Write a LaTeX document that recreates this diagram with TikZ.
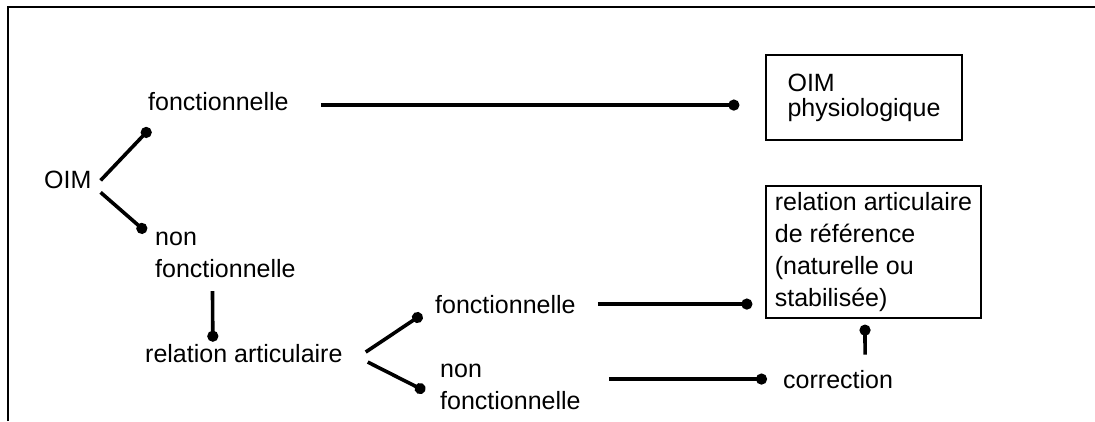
\documentclass[tikz,border=0pt]{standalone}
\usepackage{fontspec}
\setmainfont{Liberation Sans}
\usepackage{tikz}
\usetikzlibrary{arrows.meta}
\tikzset{
  txt/.style={inner sep=0pt, font=\fontsize{25}{32}\selectfont, align=left},
  boxed/.style={draw, line width=1.3pt, inner sep=0pt, font=\fontsize{25}{32}\selectfont, align=left},
  link/.style={line width=3.6pt, -{Circle[length=11pt]}}
}

\begin{document}
\begin{tikzpicture}[x=1pt,y=-1pt]
            \useasboundingbox (0,0) rectangle (1095,421);
            \draw[line width=1.6pt] (8,421) -- (8,7) -- (1095,7);

            \node[txt, anchor=base west]  (oim)      at (44,188)  {OIM};
            \node[txt, anchor=base west]  (fonc1)    at (148,110) {fonctionnelle};
            \node[txt, anchor=north west] (nonfonc1) at (155,232) {non\\fonctionnelle};
            \node[txt, anchor=base west]  (relart)   at (145,362) {relation articulaire};
            \node[txt, anchor=base west]  (fonc2)    at (435,313) {fonctionnelle};
            \node[txt, anchor=north west] (nonfonc2) at (440,364) {non\\fonctionnelle};
            \node[txt, anchor=base west]  (corr)     at (783,388) {correction};
            \node[boxed, minimum width=196pt, minimum height=85pt,
                  font=\fontsize{25}{25}\selectfont] (physio) at (864,97.5) {OIM\\physiologique};
            \node[boxed, minimum width=215pt, minimum height=132pt] (relref) at (873.5,252)
                 {relation articulaire\\de référence\\(naturelle ou\\stabilisée)};

            \draw[link] ([shift={(9pt,-1pt)}]oim.east) -- ([shift={(2pt,-18pt)}]fonc1.south west);
            \draw[link] ([shift={(9pt,-13pt)}]oim.east) -- ([xshift=-9pt]nonfonc1.north west);
            \draw[link, shorten <=32pt, shorten >=26pt] ([yshift=-4pt]fonc1.east) -- ([yshift=-4pt]fonc1.east -| physio.west);
            \draw[link, shorten <=13pt, shorten >=2pt] ([xshift=-13pt]nonfonc1.south) -- ([xshift=-31pt]relart.north);

            % second fork
            \draw[link] ([shift={(23pt,1pt)}]relart.east) -- ([shift={(-13pt,-1pt)}]fonc2.south west);
            \draw[link] ([shift={(25pt,-9pt)}]relart.east) -- ([shift={(-15pt,-4pt)}]nonfonc2.west);
            \draw[link, shorten <=22pt, shorten >=13pt] (fonc2.east) -- (fonc2.east -| relref.west);
            \draw[link, shorten <=28pt, shorten >=16pt] (corr.west -| nonfonc2.east) -- (corr.west);
            \draw[link, shorten <=15pt, shorten >=6pt] ([xshift=27pt]corr.north) -- ([xshift=-8.5pt]relref.south);
\end{tikzpicture}
\end{document}
